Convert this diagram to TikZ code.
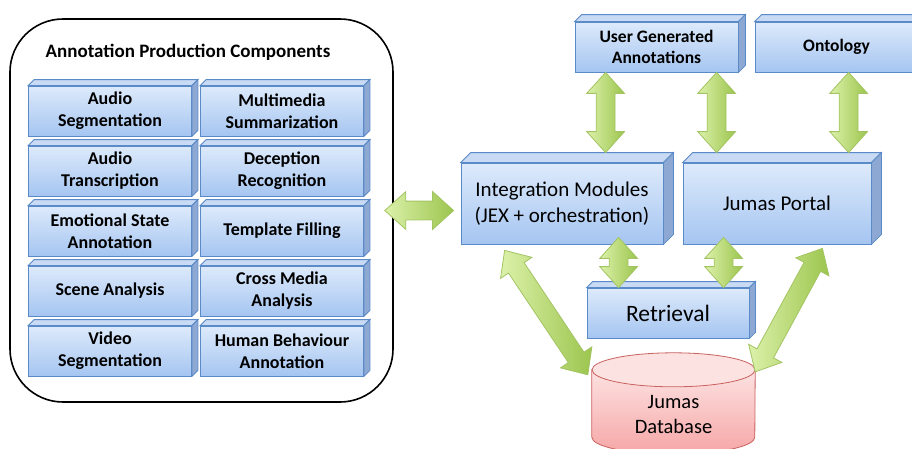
\documentclass[tikz,border=0pt]{standalone}
\usepackage{fontspec}
\setmainfont{Carlito}
\usetikzlibrary{calc,shapes.arrows,backgrounds}

\definecolor{slabtop}{HTML}{DDEAFB}
\definecolor{slabbot}{HTML}{A5C5F1}
\definecolor{slabedge}{HTML}{5A8AC8}
\definecolor{slablid}{HTML}{C8DAF4}
\definecolor{slabside}{HTML}{8EA8D4}
\definecolor{arrowlight}{HTML}{DCF1AA}
\definecolor{arrowdark}{HTML}{9CC54E}
\definecolor{arrowedge}{HTML}{A3C463}
\definecolor{dbtop}{HTML}{FDE2E2}
\definecolor{dbbot}{HTML}{F6A6A6}
\definecolor{dbedge}{HTML}{C8625F}

% lid and side of a box
\newcommand\slabfaces[2]{%
  \filldraw[slabedge, fill=slablid, line width=0.8pt] (#1.north west) -- ++(#2pt,#2pt)
    -- ([shift={(#2pt,#2pt)}]#1.north east) -- (#1.north east) -- cycle;
  \filldraw[slabedge, fill=slabside, line width=0.8pt] (#1.north east) -- ++(#2pt,#2pt)
    -- ([shift={(#2pt,#2pt)}]#1.south east) -- (#1.south east) -- cycle;}

% green two-way arrow between two points
\newcommand\duplex[2]{%
  \path let \p1=#1, \p2=#2, \n1={atan2(\y2-\y1,\x2-\x1)}, \n2={veclen(\x2-\x1,\y2-\y1)} in
    node[duplex, rotate=\n1, minimum height=\n2] at ($(\p1)!0.5!(\p2)$) {};}

\begin{document}
\begin{tikzpicture}[x=1pt, y=-1pt, every node/.style={black},
	slab/.style={draw=slabedge, line width=0.8pt, top color=slabtop, bottom color=slabbot, align=center, inner sep=2pt},
	small slab/.style={slab, minimum width=163pt, minimum height=50pt, font=\fontsize{18}{22}\selectfont\bfseries},
	top slab/.style={slab, minimum width=163pt, minimum height=50pt, font=\fontsize{17.5}{21}\selectfont\bfseries},
	big slab/.style={slab, minimum height=81pt, font=\fontsize{21}{26}\selectfont},
	duplex/.style={shape=double arrow, draw=arrowedge, line width=0.8pt, left color=arrowlight, right color=arrowdark,
		double arrow head extend=9.5pt, double arrow tip angle=84, inner xsep=0pt, inner ysep=9pt}]
	\useasboundingbox (0,0) rectangle (912,448);

	\node[draw, line width=1.6pt, rounded corners=53pt, minimum width=383pt, minimum height=383pt] (apc) at (201.5,210.5) {};
	\node[font=\fontsize{19}{23}\selectfont\bfseries] (title) at (188,52) {Annotation Production Components};

	\node[small slab] (aseg) at (110,111) {Audio\\Segmentation};
	\node[small slab] (msum) at (282,111) {Multimedia\\Summarization};
	\node[small slab] (atra) at (110,171) {Audio\\Transcription};
	\node[small slab] (drec) at (282,171) {Deception\\Recognition};
	\node[small slab] (esa) at (110,231) {Emotional State\\Annotation};
	\node[small slab] (tfill) at (282,231) {Template Filling};
	\node[small slab] (scene) at (110,291) {Scene Analysis};
	\node[small slab] (cma) at (282,291) {Cross Media\\Analysis};
	\node[small slab] (vseg) at (110,351) {Video\\Segmentation};
	\node[small slab] (hba) at (282,351) {Human Behaviour\\Annotation};
	\foreach \n in {aseg,msum,atra,drec,esa,tfill,scene,cma,vseg,hba}
		\slabfaces{\n}{6};

	\node[top slab] (uga) at (656.5,47) {User Generated\\Annotations};
	\node[top slab] (onto) at (836.5,47) {Ontology};
	\node[big slab, minimum width=202pt] (integ) at (562,203.5) {Integration Modules\\(JEX + orchestration)};
	\node[big slab, minimum width=188pt] (portal) at (777,203.5) {Jumas Portal};
	\node[slab, minimum width=162pt, minimum height=50pt, font=\fontsize{23.5}{28}\selectfont] (retr) at (668,313) {Retrieval};
	\slabfaces{uga}{7}
	\slabfaces{onto}{7}
	\slabfaces{integ}{10}
	\slabfaces{portal}{10}
	\slabfaces{retr}{6}

	\node[align=center, minimum width=163pt, minimum height=88pt, inner sep=0pt, font=\fontsize{20.5}{25}\selectfont] (db) at (673.5,414) {Jumas\\Database};
	\begin{scope}[on background layer]
		\draw[dbedge, line width=0.8pt, top color=dbtop, bottom color=dbbot] (db.north west) -- ($(db.south west)+(0,21pt)$)
			arc[start angle=180, end angle=360, x radius=81.5pt, y radius=17pt] -- (db.north east) -- cycle;
		\filldraw[dbedge, fill=dbtop, line width=0.8pt] (db.north) ellipse [x radius=81.5pt, y radius=17pt];
	\end{scope}

	\duplex{($(apc.east)+(-9pt,0)$)}{($(apc.east -| integ.west)+(-7pt,0)$)}
	\duplex{($(uga.south west |- integ.north)+(31pt,10pt)$)}{($(uga.south west)+(31pt,0)$)}
	\duplex{($(uga.south west |- portal.north)+(142pt,10pt)$)}{($(uga.south west)+(142pt,0)$)}
	\duplex{($(onto.south west |- portal.north)+(94pt,10pt)$)}{($(onto.south west)+(94pt,0)$)}
	\duplex{($(retr.north west)+(32pt,0)$)}{($(retr.north west |- integ.south)+(32pt,7pt)$)}
	\duplex{($(retr.north west)+(137pt,0)$)}{($(retr.north west |- portal.south)+(137pt,7pt)$)}
	\duplex{($(db.north west)+(-4pt,-5pt)$)}{($(integ.south west)+(44pt,-6pt)$)}
	\duplex{($(db.north east)+(0pt,-2pt)$)}{($(portal.south east)+(-49pt,-4pt)$)}
\end{tikzpicture}
\end{document}
